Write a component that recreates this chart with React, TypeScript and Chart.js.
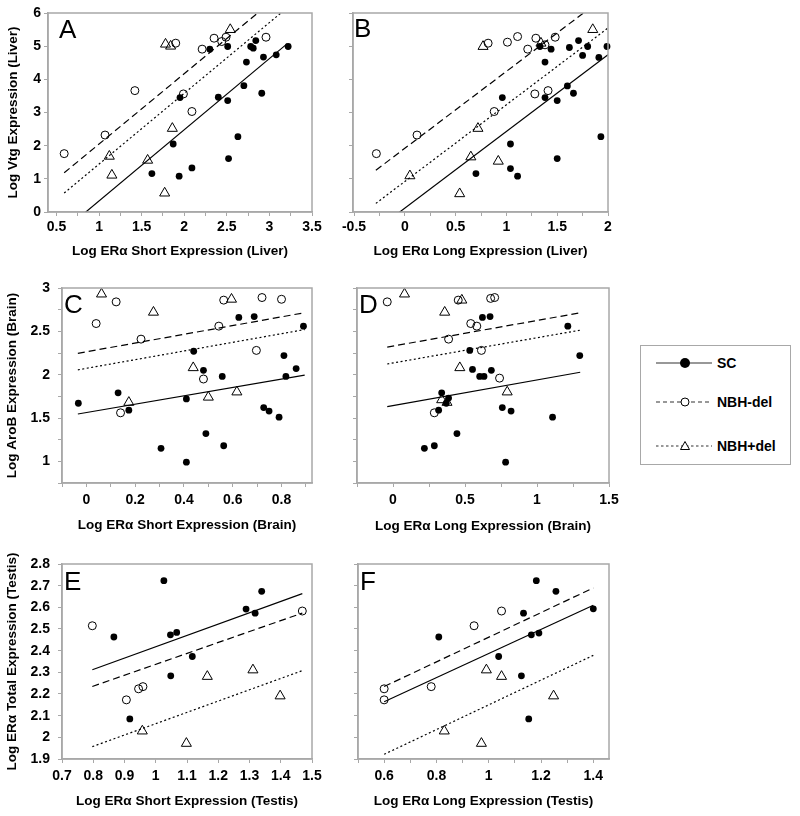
import React, { useEffect, useRef } from "react";
import { Chart, registerables } from "chart.js";

Chart.register(...registerables);

const FONT = "'Liberation Sans', Arial, Helvetica, sans-serif";
const GRAY = "#a8a8a8";

// ---------- Panel A (liver, ERα short) ----------
const A_SC = [[2.30, 4.91], [2.51, 4.99], [2.84, 5.17], [2.78, 4.99], [2.81, 4.94], [2.73, 4.52], [3.22, 4.99], [3.08, 4.74], [2.93, 4.67], [2.70, 3.81], [2.91, 3.58], [2.40, 3.46], [2.51, 3.36], [1.95, 3.45], [2.63, 2.27], [1.87, 2.05], [2.52, 1.61], [2.09, 1.33], [1.94, 1.08], [1.62, 1.16]];
const A_DEL = [[0.59, 1.76], [1.07, 2.32], [1.42, 3.66], [1.90, 5.09], [1.99, 3.56], [2.09, 3.03], [2.21, 4.91], [2.35, 5.24], [2.44, 5.14], [2.49, 5.27], [2.96, 5.27]];
const A_PLUS = [[1.78, 5.06], [1.84, 5.00], [2.54, 5.50], [1.86, 2.52], [1.12, 1.68], [1.15, 1.11], [1.57, 1.56], [1.77, 0.57]];
const A_FITS = [[2.145, -1.81], [2.12, -0.07], [2.133, -0.687]];
const A_FIT_RANGE = [0.59, 3.21];

// ---------- Panel B (liver, ERα long) ----------
const B_SC = [[0.70, 1.16], [1.04, 1.31], [1.04, 2.05], [1.11, 1.08], [0.96, 3.45], [1.38, 3.45], [1.50, 3.36], [1.50, 1.61], [1.60, 3.80], [1.66, 3.58], [1.93, 2.27], [1.38, 4.52], [1.33, 4.99], [1.44, 4.91], [1.62, 4.96], [1.71, 5.17], [1.80, 4.99], [1.75, 4.72], [1.91, 4.66], [1.99, 4.99]];
const B_DEL = [[-0.28, 1.76], [0.12, 2.32], [0.88, 3.03], [1.28, 3.56], [1.41, 3.66], [0.82, 5.09], [1.01, 5.12], [1.11, 5.29], [1.21, 4.91], [1.29, 5.24], [1.38, 5.04], [1.48, 5.27]];
const B_PLUS = [[0.77, 4.99], [1.85, 5.50], [1.34, 5.09], [0.05, 1.09], [0.54, 0.55], [0.65, 1.66], [0.72, 2.52], [0.92, 1.53]];
const B_FITS = [[2.312, 0.116], [2.32, 1.92], [2.314, 0.92]];
const B_FIT_RANGE = [-0.285, 2.0];

// ---------- Panel C (brain, ERα short) ----------
const C_SC = [[-0.033, 1.67], [0.13, 1.79], [0.174, 1.59], [0.306, 1.15], [0.41, 1.72], [0.41, 0.99], [0.44, 2.27], [0.48, 2.05], [0.49, 1.32], [0.557, 1.98], [0.563, 1.18], [0.625, 2.66], [0.688, 2.67], [0.727, 1.62], [0.749, 1.58], [0.79, 1.51], [0.81, 2.22], [0.818, 1.98], [0.86, 2.07], [0.89, 2.56]];
const C_DEL = [[0.04, 2.59], [0.122, 2.84], [0.224, 2.41], [0.14, 1.56], [0.48, 1.95], [0.543, 2.56], [0.563, 2.86], [0.697, 2.28], [0.72, 2.89], [0.80, 2.87]];
const C_PLUS = [[0.062, 2.93], [0.275, 2.72], [0.595, 2.87], [0.438, 2.08], [0.174, 1.68], [0.50, 1.74], [0.617, 1.80]];
const C_FITS = [[0.483, 1.563], [0.504, 2.264], [0.50, 2.073]];
const C_FIT_RANGE = [-0.035, 0.895];

// ---------- Panel D (brain, ERα long) ----------
const D_SC = [[0.218, 1.15], [0.287, 1.18], [0.317, 1.59], [0.338, 1.79], [0.386, 1.73], [0.37, 1.67], [0.444, 1.32], [0.533, 2.28], [0.552, 2.06], [0.602, 1.98], [0.632, 1.98], [0.683, 2.05], [0.621, 2.66], [0.674, 2.67], [0.759, 1.62], [0.82, 1.58], [0.782, 0.99], [1.108, 1.51], [1.214, 2.56], [1.297, 2.22]];
const D_DEL = [[-0.04, 2.84], [0.287, 1.56], [0.386, 2.41], [0.453, 2.86], [0.54, 2.59], [0.582, 2.56], [0.614, 2.28], [0.678, 2.88], [0.706, 2.89], [0.74, 1.96]];
const D_PLUS = [[0.08, 2.93], [0.359, 2.72], [0.478, 2.86], [0.464, 2.08], [0.338, 1.71], [0.375, 1.68], [0.793, 1.80]];
const D_FITS = [[0.295, 1.644], [0.295, 2.33], [0.291, 2.135]];
const D_FIT_RANGE = [-0.04, 1.30];

// ---------- Panel E (testis, ERα short) ----------
const E_SC = [[0.866, 2.463], [0.917, 2.085], [1.026, 2.723], [1.047, 2.473], [1.067, 2.484], [1.048, 2.284], [1.117, 2.373], [1.289, 2.592], [1.318, 2.573], [1.339, 2.674]];
const E_DEL = [[0.797, 2.515], [0.906, 2.173], [0.945, 2.224], [0.959, 2.234], [1.469, 2.583]];
const E_PLUS = [[0.957, 2.029], [1.098, 1.972], [1.165, 2.281], [1.311, 2.311], [1.398, 2.191]];
const E_FITS = [[0.523, 1.895], [0.504, 1.833], [0.522, 1.541]];
const E_FIT_RANGE = [0.797, 1.469];

// ---------- Panel F (testis, ERα long) ----------
const F_SC = [[0.809, 2.463], [1.153, 2.085], [1.182, 2.723], [1.133, 2.573], [1.163, 2.473], [1.192, 2.481], [1.038, 2.373], [1.125, 2.284], [1.257, 2.674], [1.40, 2.593]];
const F_DEL = [[0.60, 2.224], [0.60, 2.173], [0.78, 2.234], [0.944, 2.515], [1.049, 2.583]];
const F_PLUS = [[0.83, 2.029], [0.972, 1.972], [0.991, 2.311], [1.049, 2.281], [1.248, 2.191]];
const F_FITS = [[0.556, 1.831], [0.569, 1.893], [0.571, 1.579]];
const F_FIT_RANGE = [0.60, 1.40];

// ---------- ticks ----------
const A_X_TICKS = [0.5, 0.75, 1, 1.25, 1.5, 1.75, 2, 2.25, 2.5, 2.75, 3, 3.25, 3.5];
const A_X_LABELS = [0.5, 1, 1.5, 2, 2.5, 3, 3.5];
const B_X_TICKS = [-0.5, -0.25, 0, 0.25, 0.5, 0.75, 1, 1.25, 1.5, 1.75, 2];
const B_X_LABELS = [-0.5, 0, 0.5, 1, 1.5, 2];
const VTG_TICKS = [0, 1, 2, 3, 4, 5, 6];
const C_X_TICKS = [-0.1, 0, 0.1, 0.2, 0.3, 0.4, 0.5, 0.6, 0.7, 0.8, 0.9];
const C_X_LABELS = [0, 0.2, 0.4, 0.6, 0.8];
const D_X_TICKS = [-0.25, 0, 0.25, 0.5, 0.75, 1, 1.25, 1.5];
const D_X_LABELS = [0, 0.5, 1, 1.5];
const AROB_TICKS = [0.75, 1, 1.25, 1.5, 1.75, 2, 2.25, 2.5, 2.75, 3];
const AROB_LABELS = [1, 1.5, 2, 2.5, 3];
const E_X_TICKS = [0.7, 0.8, 0.9, 1, 1.1, 1.2, 1.3, 1.4, 1.5];
const F_X_TICKS = [0.5, 0.6, 0.7, 0.8, 0.9, 1, 1.1, 1.2, 1.3, 1.4];
const F_X_LABELS = [0.6, 0.8, 1, 1.2, 1.4];
const TESTIS_TICKS = [1.9, 2, 2.1, 2.2, 2.3, 2.4, 2.5, 2.6, 2.7, 2.8];

const SERIES = ["SC", "NBH-del", "NBH+del"];

type Box = { left: number; top: number; width: number; height: number };
type Area = { left: number; top: number; right: number; bottom: number };
type Panel = {
  letter: string;
  sc: number[][]; del: number[][]; plus: number[][];
  fits: number[][]; fitRange: number[];
  xMin: number; xMax: number; yMin: number; yMax: number;
  xTicks: number[]; xLabels: number[]; yTicks: number[]; yLabels: number[];
  xTitle: string; yTitle: string | null;
  canvas: Box; area: Area;
  xTickPad: number; xTitlePad: number; yTickPad: number; yTitlePad: number;
  letterPos: { left: number; top: number };
};

const PANELS: Panel[] = [
  {
    letter: "A", sc: A_SC, del: A_DEL, plus: A_PLUS, fits: A_FITS, fitRange: A_FIT_RANGE,
    xMin: 0.4, xMax: 3.5, yMin: 0, yMax: 6,
    xTicks: A_X_TICKS, xLabels: A_X_LABELS, yTicks: VTG_TICKS, yLabels: VTG_TICKS,
    xTitle: "Log ERα Short Expression (Liver)", yTitle: "Log Vtg Expression (Liver)",
    canvas: { left: 0, top: 0, width: 335, height: 262 }, area: { left: 48, top: 13, right: 312, bottom: 212 },
    xTickPad: 4, xTitlePad: 2.9, yTickPad: 3, yTitlePad: 4.9, letterPos: { left: 59, top: 16 },
  },
  {
    letter: "B", sc: B_SC, del: B_DEL, plus: B_PLUS, fits: B_FITS, fitRange: B_FIT_RANGE,
    xMin: -0.51, xMax: 2.0, yMin: 0, yMax: 6,
    xTicks: B_X_TICKS, xLabels: B_X_LABELS, yTicks: VTG_TICKS, yLabels: [],
    xTitle: "Log ERα Long Expression (Liver)", yTitle: null,
    canvas: { left: 335, top: 0, width: 285, height: 262 }, area: { left: 353, top: 13, right: 608, bottom: 212 },
    xTickPad: 4, xTitlePad: 2.9, yTickPad: 3, yTitlePad: 0, letterPos: { left: 354, top: 15 },
  },
  {
    letter: "C", sc: C_SC, del: C_DEL, plus: C_PLUS, fits: C_FITS, fitRange: C_FIT_RANGE,
    xMin: -0.1, xMax: 0.925, yMin: 0.75, yMax: 3,
    xTicks: C_X_TICKS, xLabels: C_X_LABELS, yTicks: AROB_TICKS, yLabels: AROB_LABELS,
    xTitle: "Log ERα Short Expression (Brain)", yTitle: "Log AroB Expression (Brain)",
    canvas: { left: 0, top: 262, width: 335, height: 278 }, area: { left: 62, top: 288, right: 312, bottom: 483 },
    xTickPad: 6, xTitlePad: 6.9, yTickPad: 8, yTitlePad: 3.9, letterPos: { left: 64, top: 291 },
  },
  {
    letter: "D", sc: D_SC, del: D_DEL, plus: D_PLUS, fits: D_FITS, fitRange: D_FIT_RANGE,
    xMin: -0.25, xMax: 1.5, yMin: 0.75, yMax: 3,
    xTicks: D_X_TICKS, xLabels: D_X_LABELS, yTicks: AROB_TICKS, yLabels: [],
    xTitle: "Log ERα Long Expression (Brain)", yTitle: null,
    canvas: { left: 335, top: 262, width: 285, height: 278 }, area: { left: 357, top: 288, right: 609, bottom: 483 },
    xTickPad: 6, xTitlePad: 5.9, yTickPad: 3, yTitlePad: 0, letterPos: { left: 359, top: 291 },
  },
  {
    letter: "E", sc: E_SC, del: E_DEL, plus: E_PLUS, fits: E_FITS, fitRange: E_FIT_RANGE,
    xMin: 0.7, xMax: 1.5, yMin: 1.9, yMax: 2.8,
    xTicks: E_X_TICKS, xLabels: E_X_TICKS, yTicks: TESTIS_TICKS, yLabels: TESTIS_TICKS,
    xTitle: "Log ERα Short Expression (Testis)", yTitle: "Log ERα Total Expression (Testis)",
    canvas: { left: 0, top: 540, width: 335, height: 276 }, area: { left: 62, top: 564, right: 312, bottom: 759 },
    xTickPad: 6, xTitlePad: 6.9, yTickPad: 8, yTitlePad: 3.9, letterPos: { left: 64, top: 568 },
  },
  {
    letter: "F", sc: F_SC, del: F_DEL, plus: F_PLUS, fits: F_FITS, fitRange: F_FIT_RANGE,
    xMin: 0.5, xMax: 1.46, yMin: 1.9, yMax: 2.8,
    xTicks: F_X_TICKS, xLabels: F_X_LABELS, yTicks: TESTIS_TICKS, yLabels: [],
    xTitle: "Log ERα Long Expression (Testis)", yTitle: null,
    canvas: { left: 335, top: 540, width: 285, height: 276 }, area: { left: 358, top: 564, right: 609, bottom: 759 },
    xTickPad: 6, xTitlePad: 6.9, yTickPad: 3, yTitlePad: 0, letterPos: { left: 360, top: 568 },
  },
];

const fmt = (v: number) => String(parseFloat(v.toFixed(3)));
const has = (arr: number[], v: number) => arr.some((a) => Math.abs(a - v) < 1e-9);

const boxPlugin = {
  id: "frameBox",
  afterDraw(chart: any) {
    const { ctx, chartArea: a } = chart;
    ctx.save();
    ctx.strokeStyle = GRAY;
    ctx.lineWidth = 1.5;
    ctx.strokeRect(a.left, a.top, a.right - a.left, a.bottom - a.top);
    ctx.restore();
  },
};

function makeConfig(p: Panel): any {
  const cv = p.canvas;
  const ar = p.area;
  const yW = ar.left - cv.left;
  const xH = cv.top + cv.height - ar.bottom;
  const padTop = ar.top - cv.top;
  const padRight = cv.left + cv.width - ar.right;
  const pts = (arr: number[][]) => arr.map(([x, y]) => ({ x, y }));
  const fitLine = (f: number[]) => p.fitRange.map((x) => ({ x, y: f[0] * x + f[1] }));
  const tickFont = { family: FONT, size: 14, weight: "bold" as const, lineHeight: 1 };
  const titleFont = { family: FONT, size: 13.5, weight: "bold" as const, lineHeight: 1.2 };
  const grid = { drawOnChartArea: false, drawTicks: true, tickLength: 4, color: GRAY, lineWidth: 1 };
  const border = { display: true, color: GRAY, width: 1.5 };
  const lineBase = { showLine: true, pointRadius: 0, borderColor: "#000", borderWidth: 1.2, clip: 0, fill: false };
  return {
    type: "scatter",
    data: {
      datasets: [
        { label: SERIES[0], data: pts(p.sc), pointStyle: "circle", pointRadius: 3.4, backgroundColor: "#000", borderColor: "#000", borderWidth: 0, clip: false },
        { label: SERIES[1], data: pts(p.del), pointStyle: "circle", pointRadius: 4, backgroundColor: "rgba(0,0,0,0)", borderColor: "#000", borderWidth: 1, clip: false },
        { label: SERIES[2], data: pts(p.plus), pointStyle: "triangle", pointRadius: 5.8, backgroundColor: "rgba(0,0,0,0)", borderColor: "#000", borderWidth: 1, clip: false },
        { label: SERIES[0] + " fit", data: fitLine(p.fits[0]), ...lineBase },
        { label: SERIES[1] + " fit", data: fitLine(p.fits[1]), ...lineBase, borderDash: [7, 4] },
        { label: SERIES[2] + " fit", data: fitLine(p.fits[2]), ...lineBase, borderDash: [2, 2.5] },
      ],
    },
    options: {
      responsive: false,
      maintainAspectRatio: false,
      animation: false,
      events: [],
      layout: { padding: { top: padTop, right: padRight, left: 0, bottom: 0 } },
      plugins: { legend: { display: false }, tooltip: { enabled: false }, title: { display: false } },
      scales: {
        x: {
          type: "linear",
          min: p.xMin,
          max: p.xMax,
          afterBuildTicks: (s: any) => { s.ticks = p.xTicks.map((v) => ({ value: v })); },
          afterFit: (s: any) => { s.height = xH; s.paddingLeft = 0; s.paddingRight = 0; s.paddingTop = 0; s.paddingBottom = 0; },
          ticks: {
            autoSkip: false, maxRotation: 0, minRotation: 0, padding: p.xTickPad, font: tickFont, color: "#000",
            callback: (v: number) => (has(p.xLabels, v) ? fmt(v) : ""),
          },
          grid, border,
          title: { display: true, text: p.xTitle, font: titleFont, color: "#000", padding: { top: 0, bottom: p.xTitlePad } },
        },
        y: {
          type: "linear",
          min: p.yMin,
          max: p.yMax,
          afterBuildTicks: (s: any) => { s.ticks = p.yTicks.map((v) => ({ value: v })); },
          afterFit: (s: any) => { s.width = yW; s.paddingLeft = 0; s.paddingRight = 0; s.paddingTop = 0; s.paddingBottom = 0; },
          ticks: {
            autoSkip: false, padding: p.yTickPad, font: tickFont, color: "#000",
            callback: (v: number) => (has(p.yLabels, v) ? fmt(v) : ""),
          },
          grid, border,
          title: p.yTitle
            ? { display: true, text: p.yTitle, font: titleFont, color: "#000", padding: { top: p.yTitlePad, bottom: 0 } }
            : { display: false },
        },
      },
    },
    plugins: [boxPlugin],
  };
}

function PanelChart({ p }: { p: Panel }) {
  const ref = useRef<HTMLCanvasElement | null>(null);
  useEffect(() => {
    if (!ref.current) return;
    const chart = new Chart(ref.current, makeConfig(p));
    return () => chart.destroy();
  }, [p]);
  return (
    <>
      <canvas
        ref={ref}
        width={p.canvas.width}
        height={p.canvas.height}
        style={{ position: "absolute", left: p.canvas.left, top: p.canvas.top, width: p.canvas.width, height: p.canvas.height }}
      />
      <div
        style={{
          position: "absolute", left: p.letterPos.left, top: p.letterPos.top,
          fontFamily: FONT, fontSize: 26, lineHeight: "26px", color: "#000", pointerEvents: "none",
        }}
      >
        {p.letter}
      </div>
    </>
  );
}

function LegendRow({ idx, y }: { idx: number; y: number }) {
  const dash = idx === 0 ? undefined : idx === 1 ? "4 3" : "2.5 2.5";
  return (
    <div style={{ position: "absolute", left: 0, top: y - 10, width: 148, height: 20 }}>
      <svg width={60} height={20} style={{ position: "absolute", left: 15, top: 0 }}>
        <line x1={0} y1={10} x2={56} y2={10} stroke="#333" strokeWidth={1.1} strokeDasharray={dash} />
        {idx === 0 && <circle cx={29} cy={10} r={5} fill="#000" />}
        {idx === 1 && <circle cx={29} cy={10} r={4} fill="#fff" stroke="#000" strokeWidth={1} />}
        {idx === 2 && <polygon points="29,5.5 33.5,13.5 24.5,13.5" fill="#fff" stroke="#000" strokeWidth={1} />}
      </svg>
      <span
        style={{
          position: "absolute", left: 76, top: 0, lineHeight: "20px",
          fontFamily: FONT, fontWeight: "bold", fontSize: 14, color: "#000", whiteSpace: "nowrap",
        }}
      >
        {SERIES[idx]}
      </span>
    </div>
  );
}

export default function App() {
  return (
    <div style={{ position: "absolute", left: 0, top: 0, width: 800, height: 816, background: "#fff", overflow: "hidden" }}>
      {PANELS.map((p) => (
        <PanelChart key={p.letter} p={p} />
      ))}
      <div
        style={{
          position: "absolute", left: 640, top: 345, width: 151, height: 120,
          border: `1.5px solid ${GRAY}`, boxSizing: "border-box", background: "#fff",
        }}
      >
        <LegendRow idx={0} y={17} />
        <LegendRow idx={1} y={56} />
        <LegendRow idx={2} y={100} />
      </div>
    </div>
  );
}
